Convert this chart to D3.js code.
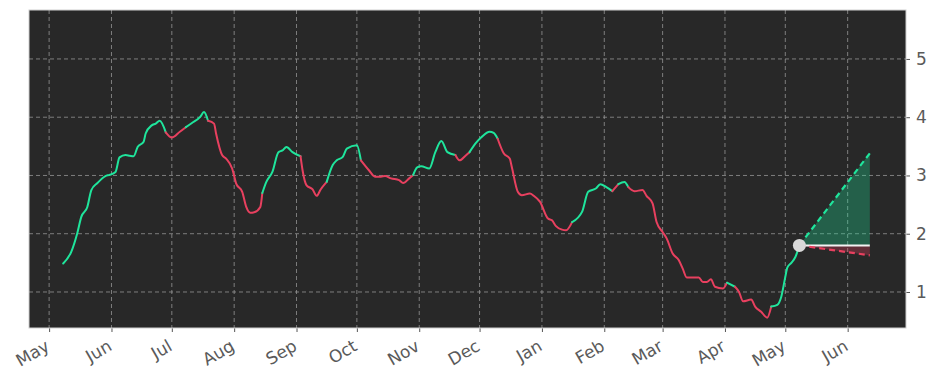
<!DOCTYPE html>
<html><head><meta charset="utf-8">
<script src="https://cdn.jsdelivr.net/npm/d3@7"></script>
<style>
html,body{margin:0;padding:0;background:#fff;}
svg{display:block;font-family:"DejaVu Sans",sans-serif;}
</style></head>
<body><svg id="chart" width="936" height="381"></svg>
<script>
// ---- data ----
const dates = ["2023-05-08","2023-05-12","2023-05-15","2023-05-17","2023-05-20","2023-05-22","2023-05-25","2023-05-29","2023-05-31","2023-06-03",
"2023-06-05","2023-06-08","2023-06-10","2023-06-12","2023-06-14","2023-06-17","2023-06-18","2023-06-21","2023-06-23","2023-06-25",
"2023-06-28","2023-07-01","2023-07-05","2023-07-08","2023-07-11","2023-07-15","2023-07-17","2023-07-19","2023-07-22","2023-07-23",
"2023-07-26","2023-07-28","2023-07-31","2023-08-02","2023-08-05","2023-08-07","2023-08-09","2023-08-11","2023-08-14","2023-08-15",
"2023-08-17","2023-08-20","2023-08-23","2023-08-25","2023-08-27","2023-08-30","2023-09-03","2023-09-04","2023-09-06","2023-09-09",
"2023-09-11","2023-09-13","2023-09-16","2023-09-19","2023-09-21","2023-09-24","2023-09-26","2023-10-01","2023-10-03","2023-10-07",
"2023-10-10","2023-10-13","2023-10-15","2023-10-18","2023-10-22","2023-10-24","2023-10-27","2023-10-29","2023-10-31","2023-11-02",
"2023-11-06","2023-11-09","2023-11-12","2023-11-15","2023-11-19","2023-11-21","2023-11-24","2023-11-26","2023-11-29","2023-12-02",
"2023-12-06","2023-12-08","2023-12-10","2023-12-13","2023-12-16","2023-12-17","2023-12-20","2023-12-22","2023-12-26","2023-12-28",
"2023-12-31","2024-01-04","2024-01-06","2024-01-08","2024-01-11","2024-01-13","2024-01-16","2024-01-21","2024-01-24","2024-01-28",
"2024-01-30","2024-02-02","2024-02-05","2024-02-08","2024-02-11","2024-02-13","2024-02-16","2024-02-20","2024-02-22","2024-02-25",
"2024-02-27","2024-03-01","2024-03-03","2024-03-06","2024-03-09","2024-03-11","2024-03-13","2024-03-16","2024-03-19","2024-03-21",
"2024-03-23","2024-03-25","2024-03-27","2024-03-31","2024-04-02","2024-04-06","2024-04-08","2024-04-10","2024-04-14","2024-04-16",
"2024-04-19","2024-04-22","2024-04-24","2024-04-27","2024-04-29","2024-05-01","2024-05-02","2024-05-04","2024-05-06","2024-05-08"];
const values = [1.49,1.69,2.01,2.29,2.46,2.75,2.87,2.99,3.01,3.06,
3.31,3.35,3.34,3.33,3.49,3.58,3.72,3.86,3.89,3.94,
3.74,3.65,3.75,3.83,3.90,4.00,4.09,3.94,3.89,3.72,
3.35,3.29,3.12,2.86,2.72,2.46,2.36,2.37,2.46,2.70,
2.89,3.06,3.40,3.43,3.49,3.40,3.33,3.09,2.83,2.76,
2.65,2.76,2.89,3.18,3.26,3.32,3.46,3.52,3.26,3.09,
2.98,2.98,2.99,2.95,2.92,2.87,2.95,3.01,3.14,3.16,
3.12,3.40,3.59,3.40,3.35,3.26,3.34,3.40,3.55,3.66,
3.75,3.73,3.63,3.38,3.29,3.15,2.72,2.66,2.69,2.65,
2.55,2.26,2.23,2.13,2.07,2.06,2.20,2.38,2.72,2.78,
2.85,2.80,2.73,2.85,2.89,2.80,2.73,2.75,2.65,2.52,
2.20,2.03,1.92,1.66,1.55,1.40,1.25,1.25,1.25,1.17,
1.17,1.22,1.09,1.06,1.16,1.09,1.00,0.84,0.87,0.75,
0.66,0.56,0.75,0.78,0.92,1.26,1.42,1.50,1.60,1.80];
// trend of the segment that starts at each point: 1 = up (green), 0 = down (red)
const trend = [1,1,1,1,1,1,1,1,1,1, 1,1,1,1,1,1,1,1,1,1,
0,0,0,1,1,1,1,0,0,0, 0,0,0,0,0,0,0,0,0,1,
1,1,1,1,1,1,0,0,0,0, 0,0,1,1,1,1,1,1,0,0,
0,0,0,0,0,0,0,1,1,1, 1,1,1,1,0,0,0,1,1,1,
1,1,0,0,0,0,0,0,0,0, 0,0,0,0,0,0,1,1,1,1,
1,1,0,1,1,0,0,0,0,0, 0,0,0,0,0,0,0,0,0,0,
0,0,0,0,1,0,0,0,0,0, 0,0,1,1,1,1,1,1,1,1];
const forecastDates = ["2024-05-08","2024-06-12"];
const forecastUp = [1.80,3.38];
const forecastFlat = [1.80,1.80];
const forecastDown = [1.80,1.63];
const yTicks = [1,2,3,4,5];
const monthTicks = ["2023-05-01","2023-06-01","2023-07-01","2023-08-01","2023-09-01","2023-10-01","2023-11-01","2023-12-01",
"2024-01-01","2024-02-01","2024-03-01","2024-04-01","2024-05-01","2024-06-01"];

// ---- setup ----
const parse = d3.utcParse("%Y-%m-%d");
const GREEN = "#1fe59c", RED = "#e8405f";
const m = {left:29, right:906, top:10, bottom:328};
const svg = d3.select("#chart");
const x = d3.scaleUtc().domain([parse("2023-04-21"), parse("2024-06-30")]).range([m.left, m.right]);
const y = d3.scaleLinear().domain([0.382, 5.84]).range([m.bottom, m.top]);

svg.append("rect").attr("x",m.left).attr("y",m.top).attr("width",m.right-m.left).attr("height",m.bottom-m.top)
  .attr("fill","#282828");

// grid
const grid = svg.append("g").attr("stroke","#a8a8a8").attr("stroke-width",0.8).attr("stroke-dasharray","4,3").attr("opacity",0.85);
monthTicks.forEach(t=>{ const xx = x(parse(t)); grid.append("line").attr("x1",xx).attr("x2",xx).attr("y1",m.top).attr("y2",m.bottom); });
yTicks.forEach(t=>{ grid.append("line").attr("x1",m.left).attr("x2",m.right).attr("y1",y(t)).attr("y2",y(t)); });

// axes
const xAxis = d3.axisBottom(x).tickValues(monthTicks.map(parse)).tickFormat(d3.utcFormat("%b")).tickSize(4).tickPadding(4);
const gx = svg.append("g").attr("transform",`translate(0,${m.bottom})`).call(xAxis)
  .attr("font-family","DejaVu Sans, sans-serif").attr("font-size",17);
gx.select(".domain").remove();
gx.selectAll(".tick line").attr("stroke","#555");
gx.selectAll(".tick text").attr("fill","#5a5a5a")
  .attr("text-anchor","end").attr("transform","translate(-5,11) rotate(-30)").attr("dy","0.71em").attr("y",0).attr("x",0);

const yAxis = d3.axisRight(y).tickValues(yTicks).tickFormat(d3.format("d")).tickSize(4).tickPadding(6);
const gy = svg.append("g").attr("transform",`translate(${m.right},0)`).call(yAxis)
  .attr("font-family","DejaVu Sans, sans-serif").attr("font-size",17);
gy.select(".domain").remove();
gy.selectAll(".tick line").attr("stroke","#555");
gy.selectAll(".tick text").attr("fill","#5a5a5a");

// forecast fills
const fd = forecastDates.map(parse);
const area = d3.area().x((d,i)=>x(fd[i])).y0(d=>y(d[0])).y1(d=>y(d[1]));
svg.append("path").datum(forecastUp.map((v,i)=>[forecastFlat[i],v])).attr("d",area).attr("fill",GREEN).attr("opacity",0.3);
svg.append("path").datum(forecastDown.map((v,i)=>[forecastFlat[i],v])).attr("d",area).attr("fill",RED).attr("opacity",0.3);

// history line, coloured by trend segments
const pts = dates.map((d,i)=>({t:parse(d), v:values[i]}));
const line = d3.line().x(d=>x(d.t)).y(d=>y(d.v)).curve(d3.curveMonotoneX);
let runs = [], cur = null;
for (let i=0;i<pts.length-1;i++){
  if (!cur || cur.c !== trend[i]) { cur = {c:trend[i], p:[pts[i]]}; runs.push(cur); }
  cur.p.push(pts[i+1]);
}
svg.append("g").selectAll("path").data(runs).join("path")
  .attr("d",r=>line(r.p)).attr("fill","none").attr("stroke",r=>r.c?GREEN:RED)
  .attr("stroke-width",2).attr("stroke-linejoin","round").attr("stroke-linecap","round");

// forecast lines
const fl = d3.line().x((d,i)=>x(fd[i])).y(d=>y(d));
svg.append("path").datum(forecastFlat).attr("d",fl).attr("stroke","#f2f2f2").attr("stroke-width",2).attr("fill","none");
svg.append("path").datum(forecastUp).attr("d",fl).attr("stroke",GREEN).attr("stroke-width",2.2).attr("stroke-dasharray","6,4").attr("fill","none");
svg.append("path").datum(forecastDown).attr("d",fl).attr("stroke",RED).attr("stroke-width",2.2).attr("stroke-dasharray","6,4").attr("fill","none");
svg.append("circle").attr("cx",x(fd[0])).attr("cy",y(forecastFlat[0])).attr("r",6.5).attr("fill","#d9d9d9");

// frame
svg.append("rect").attr("x",m.left).attr("y",m.top).attr("width",m.right-m.left).attr("height",m.bottom-m.top)
  .attr("fill","none").attr("stroke","#cfcfcf").attr("stroke-width",1);
</script></body></html>
